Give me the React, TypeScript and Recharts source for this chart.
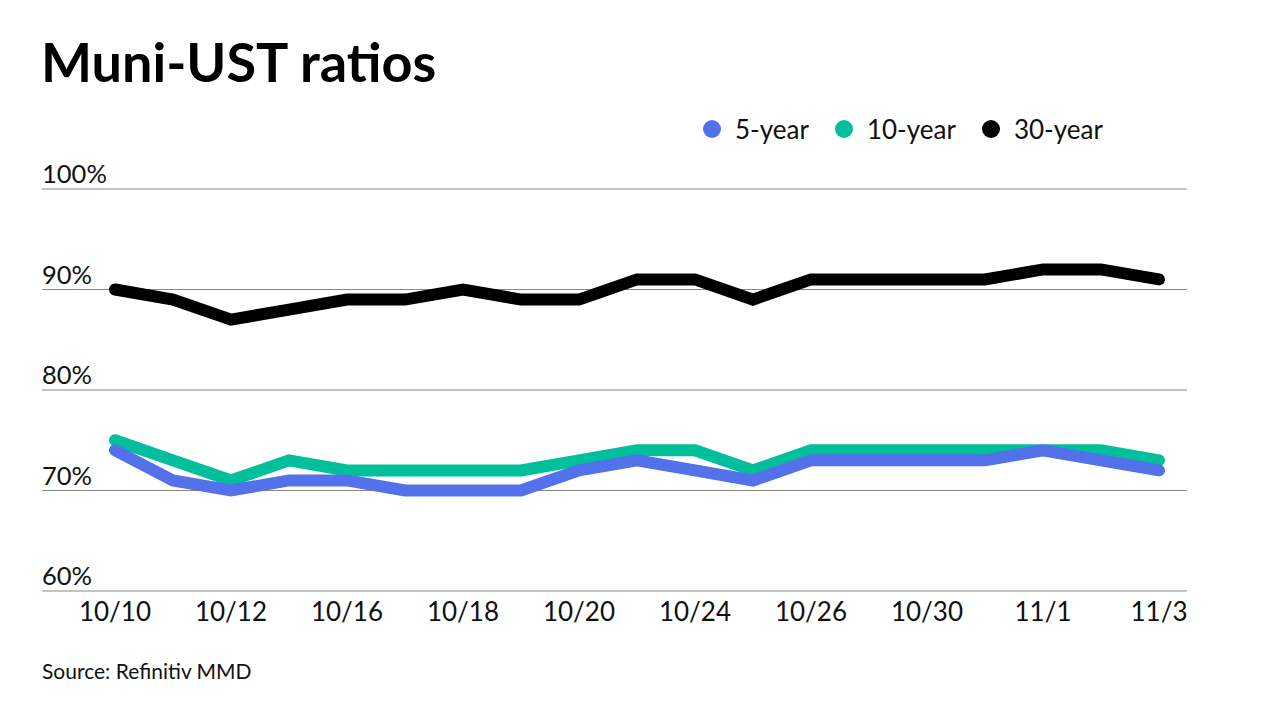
import React from 'react';
import {
  LineChart,
  Line,
  XAxis,
  YAxis,
  CartesianGrid,
} from 'recharts';

const dates = [
  '10/10', '10/11', '10/12', '10/13', '10/16', '10/17', '10/18', '10/19', '10/20', '10/23',
  '10/24', '10/25', '10/26', '10/27', '10/30', '10/31', '11/1', '11/2', '11/3',
];
const fiveYear = [74, 71, 70, 71, 71, 70, 70, 70, 72, 73, 72, 71, 73, 73, 73, 73, 74, 73, 72];
const tenYear = [75, 73, 71, 73, 72, 72, 72, 72, 73, 74, 74, 72, 74, 74, 74, 74, 74, 74, 73];
const thirtyYear = [90, 89, 87, 88, 89, 89, 90, 89, 89, 91, 91, 89, 91, 91, 91, 91, 92, 92, 91];
const yTicks = [60, 70, 80, 90, 100];

const series = [
  { key: 'fiveYear', name: '5-year', color: '#5271EA' },
  { key: 'tenYear', name: '10-year', color: '#00BF9B' },
  { key: 'thirtyYear', name: '30-year', color: '#000000' },
];

const data = dates.map((d, i) => ({
  date: d,
  fiveYear: fiveYear[i],
  tenYear: tenYear[i],
  thirtyYear: thirtyYear[i],
}));

const FONT = 'Lato, sans-serif';

const YTick = (props: any) => {
  const { y, payload } = props;
  return (
    <text x={42} y={y - 6} textAnchor="start" fontFamily={FONT} fontSize={25.5} fill="#111">
      {payload.value}%
    </text>
  );
};

const XTick = (props: any) => {
  const { x, y, payload } = props;
  return (
    <text x={x} y={y + 22} textAnchor="middle" fontFamily={FONT} fontSize={26} fill="#111">
      {payload.value}
    </text>
  );
};

export default function App() {
  return (
    <div style={{ position: 'absolute', left: 0, top: 0, width: 1280, height: 720, background: '#fff' }}>
      <div
        style={{
          position: 'absolute',
          left: 41,
          top: 30,
          fontFamily: FONT,
          fontWeight: 700,
          fontSize: 54,
          color: '#000',
          lineHeight: 1.2,
        }}
      >
        Muni-UST ratios
      </div>
      <div
        style={{
          position: 'absolute',
          left: 703,
          top: 113,
          display: 'flex',
          alignItems: 'center',
          fontFamily: FONT,
          fontSize: 26,
          color: '#111',
        }}
      >
        {series.map((s) => (
          <div key={s.key} style={{ display: 'flex', alignItems: 'center', marginRight: 26 }}>
            <span
              style={{
                width: 18,
                height: 18,
                borderRadius: 9,
                background: s.color,
                display: 'inline-block',
                marginRight: 14,
              }}
            />
            <span>{s.name}</span>
          </div>
        ))}
      </div>
      <LineChart
        width={1280}
        height={720}
        data={data}
        margin={{ top: 189, right: 93, bottom: 89, left: 41 }}
      >
        <CartesianGrid vertical={false} stroke="#888" strokeWidth={1.2} />
        <XAxis
          dataKey="date"
          interval={1}
          axisLine={false}
          tickLine={false}
          height={40}
          padding={{ left: 73, right: 28 }}
          tick={<XTick />}
        />
        <YAxis
          domain={[60, 100]}
          ticks={yTicks}
          width={1}
          axisLine={false}
          tickLine={false}
          tick={<YTick />}
        />
        {[...series].reverse().map((s) => (
          <Line
            key={s.key}
            type="linear"
            dataKey={s.key}
            name={s.name}
            stroke={s.color}
            strokeWidth={12}
            strokeLinecap="round"
            dot={false}
            activeDot={false}
            isAnimationActive={false}
          />
        ))}
      </LineChart>
      <div
        style={{
          position: 'absolute',
          left: 42,
          top: 658,
          fontFamily: FONT,
          fontSize: 21,
          color: '#111',
        }}
      >
        Source: Refinitiv MMD
      </div>
    </div>
  );
}
